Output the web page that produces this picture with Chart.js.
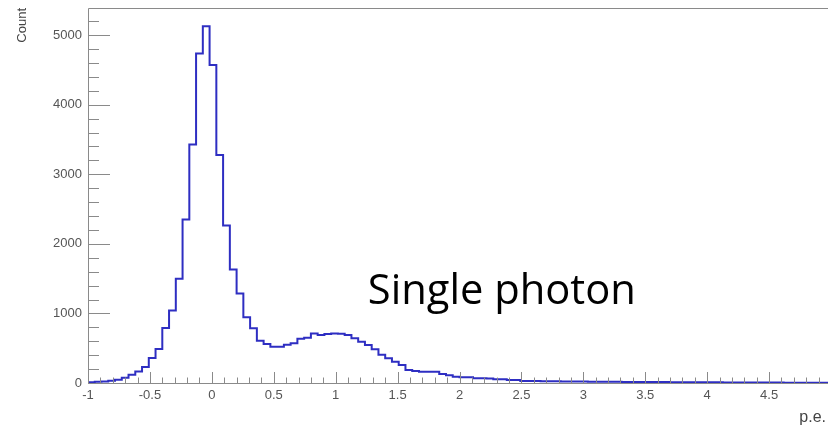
<!DOCTYPE html>
<html>
<head>
<meta charset="utf-8">
<script src="https://cdn.jsdelivr.net/npm/chart.js@4"></script>
<style>
  html, body { margin: 0; padding: 0; background: #fff; overflow: hidden; }
  #wrap { width: 840px; height: 429px; }
</style>
</head>
<body>
<div id="wrap"><canvas id="peChart" width="840" height="429"></canvas></div>
<script>
// histogram range, 110 bins from -1 to 5
const xMin = -1;
const xMax = 5;
const yMax = 5390;

// axis labels as printed
const xTicks = [-1, -0.5, 0, 0.5, 1, 1.5, 2, 2.5, 3, 3.5, 4, 4.5, 5];
const yTicks = [0, 1000, 2000, 3000, 4000, 5000];

// bin contents
const counts = [
  8, 12, 17, 22, 32, 45, 75, 120, 165, 230,
  360, 487, 790, 1043, 1500, 2350, 3429, 4737, 5129, 4569,
  3276, 2265, 1633, 1285, 944, 786, 608, 560, 521, 521,
  550, 570, 635, 650, 713, 690, 705, 712, 708, 690,
  642, 593, 546, 485, 405, 355, 306, 259, 187, 172,
  162, 162, 160, 129, 110, 91, 82, 82, 67, 67,
  64, 53, 53, 43, 43, 30, 28, 27, 25, 24,
  24, 22, 23, 21, 20, 19, 19, 18, 17, 17,
  16, 15, 15, 14, 14, 13, 13, 12, 12, 11,
  11, 10, 10, 9, 9, 8, 8, 8, 7, 7,
  7, 6, 6, 6, 5, 5, 5, 5, 4, 4
];

const xTitle = 'p.e.';
const yTitle = 'Count';
const note = { text: 'Single photon', x: 1.26, y: 1135 };

const binWidth = (xMax - xMin) / counts.length;
const histPoints = counts.map((c, i) => ({ x: xMin + i * binWidth, y: c }));
histPoints.push({ x: xMax, y: counts[counts.length - 1] });

const axisFont = { family: 'Liberation Sans', size: 13 };

// ROOT style frame: ticks drawn inward, x title, and the note text
const rootFrame = {
  id: 'rootFrame',
  afterDatasetsDraw(chart) {
    const { ctx, chartArea: a, scales: { x, y } } = chart;
    ctx.save();
    ctx.strokeStyle = '#8a8a8a';
    ctx.lineWidth = 1;
    ctx.beginPath();
    ctx.moveTo(a.left + 0.5, a.bottom + 0.5);
    ctx.lineTo(a.left + 0.5, a.top + 0.5);
    ctx.lineTo(a.right + 0.5, a.top + 0.5);
    ctx.lineTo(a.right + 0.5, a.bottom + 0.5);
    ctx.lineTo(a.left + 0.5, a.bottom + 0.5);
    ctx.stroke();

    ctx.beginPath();
    for (let v = 0; v <= yMax + 1e-6; v += 200) {
      const py = Math.round(y.getPixelForValue(v)) + 0.5;
      const len = (v % 1000 === 0) ? 22 : 11;
      ctx.moveTo(a.left, py);
      ctx.lineTo(a.left + len, py);
    }
    for (let i = 0; i <= 60; i++) {
      const px = Math.round(x.getPixelForValue(xMin + i * 0.1)) + 0.5;
      const len = (i % 5 === 0) ? 11 : 5.5;
      ctx.moveTo(px, a.bottom);
      ctx.lineTo(px, a.bottom - len);
    }
    ctx.stroke();

    ctx.fillStyle = '#444';
    ctx.font = '16px "Liberation Sans"';
    ctx.textAlign = 'right';
    ctx.textBaseline = 'middle';
    ctx.fillText(xTitle, 826, 418);

    let size = 40;
    ctx.font = size + 'px "Open Sans"';
    size = size * 268 / ctx.measureText(note.text).width;
    ctx.font = size.toFixed(1) + 'px "Open Sans"';
    ctx.fillStyle = '#000';
    ctx.textBaseline = 'alphabetic';
    ctx.textAlign = 'left';
    ctx.fillText(note.text, x.getPixelForValue(note.x), y.getPixelForValue(note.y));
    ctx.restore();
  }
};

new Chart(document.getElementById('peChart'), {
  type: 'line',
  data: {
    datasets: [{
      data: histPoints,
      stepped: 'after',
      borderColor: '#2e2ec2',
      borderWidth: 2,
      pointRadius: 0,
      fill: false
    }]
  },
  options: {
    responsive: false,
    animation: false,
    devicePixelRatio: 1,
    layout: { padding: { top: 8, right: 9, bottom: 0, left: 0 } },
    plugins: { legend: { display: false }, tooltip: { enabled: false } },
    scales: {
      x: {
        type: 'linear',
        min: xMin,
        max: xMax,
        grid: { display: false, drawTicks: false },
        border: { display: false },
        afterBuildTicks(s) { s.ticks = xTicks.map(v => ({ value: v })); },
        ticks: {
          autoSkip: false,
          maxRotation: 0,
          padding: 5,
          color: '#555',
          font: axisFont,
          callback: v => String(v)
        },
        afterFit(s) { s.height = 46; s.paddingLeft = 0; s.paddingRight = 0; }
      },
      y: {
        min: 0,
        max: yMax,
        grid: { display: false, drawTicks: false },
        border: { display: false },
        afterBuildTicks(s) { s.ticks = yTicks.map(v => ({ value: v })); },
        ticks: {
          autoSkip: false,
          padding: 6,
          color: '#555',
          font: axisFont,
          callback: v => String(v)
        },
        title: {
          display: true,
          text: yTitle,
          align: 'end',
          color: '#444',
          font: axisFont,
          padding: { top: 15, bottom: 0 }
        },
        afterFit(s) { s.width = 88; s.paddingTop = 0; s.paddingBottom = 0; }
      }
    }
  },
  plugins: [rootFrame]
});
</script>
</body>
</html>
